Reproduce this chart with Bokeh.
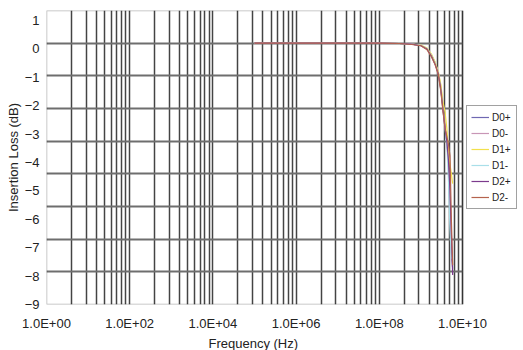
from bokeh.plotting import figure
from bokeh.models import (Range1d, LogScale, Grid, FixedTicker, Legend, LegendItem,
                          BoxAnnotation, Title)
from bokeh.embed import file_html
from bokeh.resources import INLINE

# ---- data (frequency in Hz, insertion loss in dB) ----
freq = [1e5, 1e6, 1e7, 1e8, 3e8, 6e8, 1.0e9, 1.4e9, 1.8e9, 2.2e9, 2.6e9,
        3.0e9, 3.4e9, 3.8e9, 4.2e9, 4.6e9, 5.0e9, 5.4e9, 5.8e9]
d0p = [0.0, 0.0, 0.0, 0.0, -0.01, -0.03, -0.07, -0.17, -0.38, -0.62, -0.9,
       -1.35, -2.0, -2.55, -3.05, -3.7, -5.2, -6.4, -6.9]
d0m = [0.0, 0.0, 0.0, 0.0, -0.01, -0.03, -0.07, -0.16, -0.36, -0.6, -0.88,
       -1.3, -1.95, -2.5, -3.0, -3.6, -5.1, -6.2, -6.8]
d1p = [0.0, 0.0, 0.0, 0.0, -0.01, -0.03, -0.06, -0.15, -0.34, -0.58, -0.85,
       -1.25, -1.8, -2.1, -2.6, -3.3, -3.7, -4.0, -4.3]
d1m = [0.0, 0.0, 0.0, 0.0, -0.01, -0.03, -0.07, -0.17, -0.38, -0.62, -0.9,
       -1.4, -2.05, -2.6, -3.1, -4.2, -5.7, -6.6]
d2p = [0.0, 0.0, 0.0, 0.0, -0.01, -0.03, -0.08, -0.18, -0.4, -0.65, -0.92,
       -1.4, -2.05, -2.6, -3.0, -3.6, -4.5, -5.8, -7.1]
d2m = [0.0, 0.0, 0.0, 0.0, -0.01, -0.04, -0.08, -0.2, -0.42, -0.66, -0.95,
       -1.45, -2.1, -2.6, -2.85, -3.1, -3.45, -5.4, -6.8]
series_names = ["D0+", "D0-", "D1+", "D1-", "D2+", "D2-"]
series_vals = [d0p, d0m, d1p, d1m, d2p, d2m]
series_colors = ["#6f68b2", "#c896b6", "#f2e04c", "#a9dfe9", "#7c3b8d", "#b5634e"]

x_ticks = [1e0, 1e2, 1e4, 1e6, 1e8, 1e10]
x_tick_labels = ["1.0E+00", "1.0E+02", "1.0E+04", "1.0E+06", "1.0E+08", "1.0E+10"]
y_ticks = [1, 0, -1, -2, -3, -4, -5, -6, -7, -8, -9]
y_tick_labels = ["1", "0", "\u22121", "\u22122", "\u22123", "\u22124", "\u22125",
                 "\u22126", "\u22127", "\u22128", "\u22129"]

FONT = "Liberation Sans"

# the frame is widened to the right so that the legend can sit beside the box
PLOT_W, FRAME_W = 416, 477
x_end = 10 ** (10 * FRAME_W / PLOT_W)
grid_end = 10 ** (5 * FRAME_W / PLOT_W)

p = figure(width=523, height=350, x_axis_type="log",
           x_range=Range1d(1, x_end), y_range=Range1d(-9, 1.35),
           output_backend="svg", toolbar_location=None,
           min_border_left=46, min_border_right=0,
           min_border_top=10, min_border_bottom=0)
p.background_fill_color = "white"
p.border_fill_color = "white"
p.outline_line_color = None

p.xgrid.visible = False
p.ygrid.visible = False

renderers = []
for vals, col in zip(series_vals, series_colors):
    r = p.line(freq[:len(vals)], vals, y_range_name="grid",
               line_color=col, line_width=1.2)
    renderers.append(r)

# grid uses its own ranges (as in the reference drawing)
p.extra_x_ranges = {"grid": Range1d(1, grid_end)}
p.extra_x_scales = {"grid": LogScale()}
p.extra_y_ranges = {"grid": Range1d(-8, 1)}

gx_major = [10.0 ** d for d in range(0, 6)]
gx_minor = [k * 10.0 ** d for d in range(0, 5) for k in range(2, 10)]
vgrid = Grid(dimension=0, x_range_name="grid",
             ticker=FixedTicker(ticks=gx_major, minor_ticks=gx_minor),
             grid_line_color="#444444", grid_line_width=1.5,
             minor_grid_line_color="#444444", minor_grid_line_width=1.5,
             level="underlay")
hgrid = Grid(dimension=1, y_range_name="grid",
             ticker=FixedTicker(ticks=list(range(-8, 2))),
             cross_bounds=(x_ticks[0], x_ticks[-1]),
             grid_line_color="#6e6e6e", grid_line_width=2, level="underlay")
p.add_layout(vgrid)
p.add_layout(hgrid)

box = BoxAnnotation(left=x_ticks[0], right=x_ticks[-1], bottom=-8, top=1,
                    y_range_name="grid", fill_alpha=0, fill_color=None,
                    line_color="#111111", line_width=1.5, level="underlay")
p.add_layout(box)

# axes
xa = p.xaxis[0]
xa.ticker = FixedTicker(ticks=x_ticks)
xa.major_label_overrides = {t: l for t, l in zip(x_ticks, x_tick_labels)}
ya = p.yaxis[0]
ya.ticker = FixedTicker(ticks=y_ticks)
ya.major_label_overrides = {t: l for t, l in zip(y_ticks, y_tick_labels)}

for ax in (xa, ya):
    ax.axis_line_color = None
    ax.major_tick_line_color = None
    ax.minor_tick_line_color = None
    ax.major_tick_out = 0
    ax.major_tick_in = 0
    ax.minor_tick_out = 0
    ax.minor_tick_in = 0
    ax.major_label_text_font = FONT
    ax.major_label_text_font_size = "13px"
    ax.major_label_text_color = "#222222"
    ax.axis_label_text_font = FONT
    ax.axis_label_text_font_size = "13px"
    ax.axis_label_text_font_style = "normal"
    ax.axis_label_text_color = "#222222"

xa.major_label_standoff = 11
ya.axis_label = "Insertion Loss (dB)"
ya.major_label_standoff = 7
ya.axis_label_standoff = 1

xtitle = Title(text="Frequency (Hz)", align="left", offset=162, standoff=0,
               text_font=FONT, text_font_size="13px", text_font_style="normal",
               text_color="#222222")
p.add_layout(xtitle, "below")

items = [LegendItem(label=n, renderers=[r]) for n, r in zip(series_names, renderers)]
legend = Legend(items=items, location="right",
                border_line_color="#444444", border_line_width=1.5,
                background_fill_color="white", background_fill_alpha=1,
                label_text_font=FONT, label_text_font_size="10px",
                label_text_color="#222222",
                glyph_width=18, glyph_height=14, label_height=12,
                label_standoff=3, spacing=2, padding=4, margin=6)
p.add_layout(legend)

open("out.html", "w").write(file_html(p, INLINE))
